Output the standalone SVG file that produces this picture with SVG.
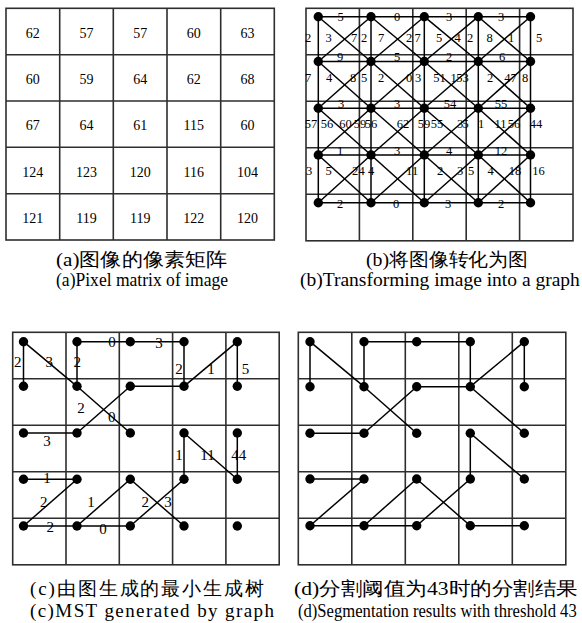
<svg xmlns="http://www.w3.org/2000/svg" width="582" height="623" viewBox="0 0 582 623">
<style>
.grid{stroke:#2e2e2e;stroke-width:1.6;fill:none}
.edge{stroke:#000;stroke-width:1.5;fill:none}
.node{fill:#000}
text{font-family:"Liberation Serif","Times New Roman",serif;fill:#000}
.txt{opacity:0.999}
.na{font-size:14px;text-anchor:middle}
.lb{font-size:12.5px;text-anchor:middle}
.lc{font-size:15px;text-anchor:middle}
.cap{font-size:19px;font-family:"Liberation Serif","Noto Sans CJK SC",serif}
</style>
<rect width="582" height="623" fill="#fff"/>

<!-- Panel (a): pixel matrix -->
<g id="panel-a">
<rect class="grid" x="6" y="8.3" width="268.3" height="231.7"/>
<path class="grid" d="M59.7 8.3V240M113.3 8.3V240M167 8.3V240M220.7 8.3V240M6 54.7H274.3M6 101H274.3M6 147.3H274.3M6 193.7H274.3"/>
<g class="na txt">
<text x="32.8" y="37.5">62</text><text x="86.5" y="37.5">57</text><text x="140.2" y="37.5">57</text><text x="193.8" y="37.5">60</text><text x="247.5" y="37.5">63</text>
<text x="32.8" y="83.9">60</text><text x="86.5" y="83.9">59</text><text x="140.2" y="83.9">64</text><text x="193.8" y="83.9">62</text><text x="247.5" y="83.9">68</text>
<text x="32.8" y="130.2">67</text><text x="86.5" y="130.2">64</text><text x="140.2" y="130.2">61</text><text x="193.8" y="130.2">115</text><text x="247.5" y="130.2">60</text>
<text x="32.8" y="176.5">124</text><text x="86.5" y="176.5">123</text><text x="140.2" y="176.5">120</text><text x="193.8" y="176.5">116</text><text x="247.5" y="176.5">104</text>
<text x="32.8" y="222.9">121</text><text x="86.5" y="222.9">119</text><text x="140.2" y="222.9">119</text><text x="193.8" y="222.9">122</text><text x="247.5" y="222.9">120</text>
</g>
</g>

<!-- Panel (b): image as graph -->
<g id="panel-b-grid">
<rect class="grid" x="306" y="8.3" width="267" height="232.5"/>
<path class="grid" d="M359.4 8.3V240.8M412.8 8.3V240.8M466.2 8.3V240.8M519.6 8.3V240.8M306 54.8H573M306 101.3H573M306 147.8H573M306 194.3H573"/>
</g>
<g id="b-edges" class="edge">
<line x1="318.3" y1="16.7" x2="371" y2="16.7"/><line x1="371" y1="16.7" x2="424.3" y2="16.7"/><line x1="424.3" y1="16.7" x2="478.3" y2="16.7"/><line x1="478.3" y1="16.7" x2="530.5" y2="16.7"/>
<line x1="318.3" y1="61.5" x2="371" y2="61.5"/><line x1="371" y1="61.5" x2="424.3" y2="61.5"/><line x1="424.3" y1="61.5" x2="478.3" y2="61.5"/><line x1="478.3" y1="61.5" x2="530.5" y2="61.5"/>
<line x1="318.3" y1="108.3" x2="371" y2="108.3"/><line x1="371" y1="108.3" x2="424.3" y2="108.3"/><line x1="424.3" y1="108.3" x2="478.3" y2="108.3"/><line x1="478.3" y1="108.3" x2="530.5" y2="108.3"/>
<line x1="318.3" y1="155" x2="371" y2="155"/><line x1="371" y1="155" x2="424.3" y2="155"/><line x1="424.3" y1="155" x2="478.3" y2="155"/><line x1="478.3" y1="155" x2="530.5" y2="155"/>
<line x1="318.3" y1="202.7" x2="371" y2="202.7"/><line x1="371" y1="202.7" x2="424.3" y2="202.7"/><line x1="424.3" y1="202.7" x2="478.3" y2="202.7"/><line x1="478.3" y1="202.7" x2="530.5" y2="202.7"/>
<line x1="318.3" y1="16.7" x2="318.3" y2="61.5"/><line x1="318.3" y1="61.5" x2="318.3" y2="108.3"/><line x1="318.3" y1="108.3" x2="318.3" y2="155"/><line x1="318.3" y1="155" x2="318.3" y2="202.7"/>
<line x1="371" y1="16.7" x2="371" y2="61.5"/><line x1="371" y1="61.5" x2="371" y2="108.3"/><line x1="371" y1="108.3" x2="371" y2="155"/><line x1="371" y1="155" x2="371" y2="202.7"/>
<line x1="424.3" y1="16.7" x2="424.3" y2="61.5"/><line x1="424.3" y1="61.5" x2="424.3" y2="108.3"/><line x1="424.3" y1="108.3" x2="424.3" y2="155"/><line x1="424.3" y1="155" x2="424.3" y2="202.7"/>
<line x1="478.3" y1="16.7" x2="478.3" y2="61.5"/><line x1="478.3" y1="61.5" x2="478.3" y2="108.3"/><line x1="478.3" y1="108.3" x2="478.3" y2="155"/><line x1="478.3" y1="155" x2="478.3" y2="202.7"/>
<line x1="530.5" y1="16.7" x2="530.5" y2="61.5"/><line x1="530.5" y1="61.5" x2="530.5" y2="108.3"/><line x1="530.5" y1="108.3" x2="530.5" y2="155"/><line x1="530.5" y1="155" x2="530.5" y2="202.7"/>
<line x1="318.3" y1="16.7" x2="371" y2="61.5"/><line x1="371" y1="16.7" x2="318.3" y2="61.5"/><line x1="371" y1="16.7" x2="424.3" y2="61.5"/><line x1="424.3" y1="16.7" x2="371" y2="61.5"/><line x1="424.3" y1="16.7" x2="478.3" y2="61.5"/><line x1="478.3" y1="16.7" x2="424.3" y2="61.5"/><line x1="478.3" y1="16.7" x2="530.5" y2="61.5"/><line x1="530.5" y1="16.7" x2="478.3" y2="61.5"/>
<line x1="318.3" y1="61.5" x2="371" y2="108.3"/><line x1="371" y1="61.5" x2="318.3" y2="108.3"/><line x1="371" y1="61.5" x2="424.3" y2="108.3"/><line x1="424.3" y1="61.5" x2="371" y2="108.3"/><line x1="424.3" y1="61.5" x2="478.3" y2="108.3"/><line x1="478.3" y1="61.5" x2="424.3" y2="108.3"/><line x1="478.3" y1="61.5" x2="530.5" y2="108.3"/><line x1="530.5" y1="61.5" x2="478.3" y2="108.3"/>
<line x1="318.3" y1="108.3" x2="371" y2="155"/><line x1="371" y1="108.3" x2="318.3" y2="155"/><line x1="371" y1="108.3" x2="424.3" y2="155"/><line x1="424.3" y1="108.3" x2="371" y2="155"/><line x1="424.3" y1="108.3" x2="478.3" y2="155"/><line x1="478.3" y1="108.3" x2="424.3" y2="155"/><line x1="478.3" y1="108.3" x2="530.5" y2="155"/><line x1="530.5" y1="108.3" x2="478.3" y2="155"/>
<line x1="318.3" y1="155" x2="371" y2="202.7"/><line x1="371" y1="155" x2="318.3" y2="202.7"/><line x1="371" y1="155" x2="424.3" y2="202.7"/><line x1="424.3" y1="155" x2="371" y2="202.7"/><line x1="424.3" y1="155" x2="478.3" y2="202.7"/><line x1="478.3" y1="155" x2="424.3" y2="202.7"/><line x1="478.3" y1="155" x2="530.5" y2="202.7"/><line x1="530.5" y1="155" x2="478.3" y2="202.7"/>
</g>
<g id="b-labels" class="lb txt">
<text x="340.5" y="20.5">5</text><text x="397" y="20.5">0</text><text x="449" y="20.5">3</text><text x="501" y="20.5">3</text>
<text x="340" y="60.5">9</text><text x="397" y="60.5">5</text><text x="449" y="60.5">2</text><text x="502" y="60.5">6</text>
<text x="341" y="108">3</text><text x="397" y="108">3</text><text x="450" y="108">54</text><text x="501" y="108">55</text>
<text x="340" y="155">1</text><text x="397" y="155">3</text><text x="449" y="155">4</text><text x="501" y="155">12</text>
<text x="340" y="208">2</text><text x="396" y="208">0</text><text x="448" y="208">3</text><text x="501" y="208">2</text>
<text x="308" y="41.5">2</text><text x="328.5" y="41.5">3</text><text x="354" y="41.5">7</text><text x="364" y="41.5">2</text><text x="381" y="41.5">7</text><text x="409" y="41.5">2</text><text x="417.5" y="41.5">7</text><text x="439" y="41.5">5</text><text x="457.5" y="41.5">4</text><text x="470" y="41.5">2</text><text x="489.5" y="41.5">8</text><text x="511" y="41.5">1</text><text x="539" y="41.5">5</text>
<text x="308" y="81.5">7</text><text x="329" y="81.5">4</text><text x="353" y="81.5">8</text><text x="364" y="81.5">5</text><text x="381" y="81.5">2</text><text x="409" y="81.5">0</text><text x="418" y="81.5">3</text><text x="439.5" y="81.5">51</text><text x="453.5" y="81.5">1</text><text x="462.5" y="81.5">53</text><text x="490" y="81.5">2</text><text x="510.5" y="81.5">47</text><text x="525" y="81.5">8</text>
<text x="311" y="128">57</text><text x="327" y="128">56</text><text x="345.5" y="128">60</text><text x="360" y="128">59</text><text x="371" y="128">56</text><text x="403" y="128">62</text><text x="424" y="128">59</text><text x="437" y="128">55</text><text x="460" y="128">3</text><text x="465.5" y="128">5</text><text x="481" y="128">1</text><text x="500.5" y="128">11</text><text x="514" y="128">56</text><text x="536" y="128">44</text>
<text x="309" y="175">3</text><text x="328.5" y="175">5</text><text x="355" y="175">2</text><text x="361.5" y="175">4</text><text x="371" y="175">4</text><text x="409" y="175">1</text><text x="415" y="175">1</text><text x="440" y="175">2</text><text x="460" y="175">3</text><text x="471" y="175">5</text><text x="490.5" y="175">4</text><text x="515" y="175">18</text><text x="538.5" y="175">16</text>
</g>
<g id="b-nodes" class="node">
<g id="b-n00"><circle cx="318.3" cy="16.7" r="4.7"/></g><g id="b-n01"><circle cx="371" cy="16.7" r="4.7"/></g><g id="b-n02"><circle cx="424.3" cy="16.7" r="4.7"/></g><g id="b-n03"><circle cx="478.3" cy="16.7" r="4.7"/></g><g id="b-n04"><circle cx="530.5" cy="16.7" r="4.7"/></g>
<g id="b-n10"><circle cx="318.3" cy="61.5" r="4.7"/></g><g id="b-n11"><circle cx="371" cy="61.5" r="4.7"/></g><g id="b-n12"><circle cx="424.3" cy="61.5" r="4.7"/></g><g id="b-n13"><circle cx="478.3" cy="61.5" r="4.7"/></g><g id="b-n14"><circle cx="530.5" cy="61.5" r="4.7"/></g>
<g id="b-n20"><circle cx="318.3" cy="108.3" r="4.7"/></g><g id="b-n21"><circle cx="371" cy="108.3" r="4.7"/></g><g id="b-n22"><circle cx="424.3" cy="108.3" r="4.7"/></g><g id="b-n23"><circle cx="478.3" cy="108.3" r="4.7"/></g><g id="b-n24"><circle cx="530.5" cy="108.3" r="4.7"/></g>
<g id="b-n30"><circle cx="318.3" cy="155" r="4.7"/></g><g id="b-n31"><circle cx="371" cy="155" r="4.7"/></g><g id="b-n32"><circle cx="424.3" cy="155" r="4.7"/></g><g id="b-n33"><circle cx="478.3" cy="155" r="4.7"/></g><g id="b-n34"><circle cx="530.5" cy="155" r="4.7"/></g>
<g id="b-n40"><circle cx="318.3" cy="202.7" r="4.7"/></g><g id="b-n41"><circle cx="371" cy="202.7" r="4.7"/></g><g id="b-n42"><circle cx="424.3" cy="202.7" r="4.7"/></g><g id="b-n43"><circle cx="478.3" cy="202.7" r="4.7"/></g><g id="b-n44"><circle cx="530.5" cy="202.7" r="4.7"/></g>
</g>

<!-- Panel (c): MST -->
<g id="panel-c-grid">
<rect class="grid" x="12.7" y="332.3" width="266.5" height="232.5"/>
<path class="grid" d="M66 332.3V564.8M119.3 332.3V564.8M172.6 332.3V564.8M225.9 332.3V564.8M12.7 378.8H279.2M12.7 425.3H279.2M12.7 471.8H279.2M12.7 518.3H279.2"/>
</g>
<g id="c-edges" class="edge">
<line x1="23.5" y1="341.7" x2="23.5" y2="386.3"/>
<line x1="23.5" y1="341.7" x2="77" y2="386.3"/>
<line x1="77" y1="386.3" x2="130.3" y2="433"/>
<line x1="77" y1="341.7" x2="77" y2="386.3"/>
<line x1="77" y1="341.7" x2="130.3" y2="341.7"/>
<line x1="130.3" y1="341.7" x2="184" y2="341.7"/>
<line x1="184" y1="341.7" x2="184" y2="386.3"/>
<line x1="237.3" y1="341.7" x2="184" y2="386.3"/>
<line x1="237.3" y1="341.7" x2="237.3" y2="386.3"/>
<line x1="130.3" y1="386.3" x2="184" y2="386.3"/>
<line x1="130.3" y1="386.3" x2="77" y2="433"/>
<line x1="23.5" y1="433" x2="77" y2="433"/>
<line x1="184" y1="433" x2="184" y2="479.3"/>
<line x1="184" y1="433" x2="237.3" y2="479.3"/>
<line x1="237.3" y1="433" x2="237.3" y2="479.3"/>
<line x1="23.5" y1="479.3" x2="77" y2="479.3"/>
<line x1="77" y1="479.3" x2="23.5" y2="526"/>
<line x1="130.3" y1="479.3" x2="77" y2="526"/>
<line x1="130.3" y1="479.3" x2="184" y2="526"/>
<line x1="184" y1="479.3" x2="130.3" y2="526"/>
<line x1="23.5" y1="526" x2="77" y2="526"/>
<line x1="77" y1="526" x2="130.3" y2="526"/>
</g>
<g id="c-labels" class="lc txt">
<text x="17.8" y="366.5">2</text><text x="49.3" y="366.5">3</text><text x="77.3" y="366.5">2</text>
<text x="112" y="347">0</text><text x="159" y="348">3</text>
<text x="179" y="374">2</text><text x="211" y="374">1</text><text x="245.5" y="374">5</text>
<text x="81" y="413">2</text><text x="111.7" y="421.5">0</text><text x="47" y="446">3</text>
<text x="179" y="460">1</text><text x="207.5" y="460">11</text><text x="238.7" y="460">44</text>
<text x="47" y="482.5">1</text><text x="43.7" y="506.5">2</text><text x="91" y="506.5">1</text><text x="145.3" y="506.5">2</text><text x="168" y="507">3</text>
<text x="50.3" y="531.5">2</text><text x="103" y="534">0</text>
</g>
<g id="c-nodes" class="node">
<g id="c-n00"><circle cx="23.5" cy="341.7" r="4.7"/></g><g id="c-n01"><circle cx="77" cy="341.7" r="4.7"/></g><g id="c-n02"><circle cx="130.3" cy="341.7" r="4.7"/></g><g id="c-n03"><circle cx="184" cy="341.7" r="4.7"/></g><g id="c-n04"><circle cx="237.3" cy="341.7" r="4.7"/></g>
<g id="c-n10"><circle cx="23.5" cy="386.3" r="4.7"/></g><g id="c-n11"><circle cx="77" cy="386.3" r="4.7"/></g><g id="c-n12"><circle cx="130.3" cy="386.3" r="4.7"/></g><g id="c-n13"><circle cx="184" cy="386.3" r="4.7"/></g><g id="c-n14"><circle cx="237.3" cy="386.3" r="4.7"/></g>
<g id="c-n20"><circle cx="23.5" cy="433" r="4.7"/></g><g id="c-n21"><circle cx="77" cy="433" r="4.7"/></g><g id="c-n22"><circle cx="130.3" cy="433" r="4.7"/></g><g id="c-n23"><circle cx="184" cy="433" r="4.7"/></g><g id="c-n24"><circle cx="237.3" cy="433" r="4.7"/></g>
<g id="c-n30"><circle cx="23.5" cy="479.3" r="4.7"/></g><g id="c-n31"><circle cx="77" cy="479.3" r="4.7"/></g><g id="c-n32"><circle cx="130.3" cy="479.3" r="4.7"/></g><g id="c-n33"><circle cx="184" cy="479.3" r="4.7"/></g><g id="c-n34"><circle cx="237.3" cy="479.3" r="4.7"/></g>
<g id="c-n40"><circle cx="23.5" cy="526" r="4.7"/></g><g id="c-n41"><circle cx="77" cy="526" r="4.7"/></g><g id="c-n42"><circle cx="130.3" cy="526" r="4.7"/></g><g id="c-n43"><circle cx="184" cy="526" r="4.7"/></g><g id="c-n44"><circle cx="237.3" cy="526" r="4.7"/></g>
</g>

<!-- Panel (d): segmentation -->
<g id="panel-d-grid">
<rect class="grid" x="298.3" y="332.3" width="267.5" height="232.5"/>
<path class="grid" d="M351.8 332.3V564.8M405.3 332.3V564.8M458.8 332.3V564.8M512.3 332.3V564.8M298.3 378.8H565.8M298.3 425.3H565.8M298.3 471.8H565.8M298.3 518.3H565.8"/>
</g>
<g id="d-edges" class="edge">
<line x1="310" y1="341.7" x2="310" y2="386.7"/>
<line x1="310" y1="341.7" x2="364" y2="386.7"/>
<line x1="364" y1="386.7" x2="416.7" y2="433.3"/>
<line x1="364" y1="341.7" x2="364" y2="386.7"/>
<line x1="364" y1="341.7" x2="416.7" y2="341.7"/>
<line x1="416.7" y1="341.7" x2="470.3" y2="341.7"/>
<line x1="470.3" y1="341.7" x2="470.3" y2="386.7"/>
<line x1="524.3" y1="341.7" x2="470.3" y2="386.7"/>
<line x1="524.3" y1="341.7" x2="524.3" y2="386.7"/>
<line x1="416.7" y1="386.7" x2="470.3" y2="386.7"/>
<line x1="416.7" y1="386.7" x2="364" y2="433.3"/>
<line x1="310" y1="433.3" x2="364" y2="433.3"/>
<line x1="470.3" y1="386.7" x2="524.3" y2="433.3"/>
<line x1="470.3" y1="433.3" x2="470.3" y2="479"/>
<line x1="470.3" y1="433.3" x2="524.3" y2="479"/>
<line x1="310" y1="479" x2="364" y2="479"/>
<line x1="364" y1="479" x2="310" y2="525.7"/>
<line x1="416.7" y1="479" x2="364" y2="525.7"/>
<line x1="416.7" y1="479" x2="470.3" y2="525.7"/>
<line x1="470.3" y1="479" x2="416.7" y2="525.7"/>
<line x1="310" y1="525.7" x2="364" y2="525.7"/>
<line x1="364" y1="525.7" x2="416.7" y2="525.7"/>
<line x1="470.3" y1="525.7" x2="524.3" y2="525.7"/>
</g>
<g id="d-nodes" class="node">
<g id="d-n00"><circle cx="310" cy="341.7" r="4.7"/></g><g id="d-n01"><circle cx="364" cy="341.7" r="4.7"/></g><g id="d-n02"><circle cx="416.7" cy="341.7" r="4.7"/></g><g id="d-n03"><circle cx="470.3" cy="341.7" r="4.7"/></g><g id="d-n04"><circle cx="524.3" cy="341.7" r="4.7"/></g>
<g id="d-n10"><circle cx="310" cy="386.7" r="4.7"/></g><g id="d-n11"><circle cx="364" cy="386.7" r="4.7"/></g><g id="d-n12"><circle cx="416.7" cy="386.7" r="4.7"/></g><g id="d-n13"><circle cx="470.3" cy="386.7" r="4.7"/></g><g id="d-n14"><circle cx="524.3" cy="386.7" r="4.7"/></g>
<g id="d-n20"><circle cx="310" cy="433.3" r="4.7"/></g><g id="d-n21"><circle cx="364" cy="433.3" r="4.7"/></g><g id="d-n22"><circle cx="416.7" cy="433.3" r="4.7"/></g><g id="d-n23"><circle cx="470.3" cy="433.3" r="4.7"/></g><g id="d-n24"><circle cx="524.3" cy="433.3" r="4.7"/></g>
<g id="d-n30"><circle cx="310" cy="479" r="4.7"/></g><g id="d-n31"><circle cx="364" cy="479" r="4.7"/></g><g id="d-n32"><circle cx="416.7" cy="479" r="4.7"/></g><g id="d-n33"><circle cx="470.3" cy="479" r="4.7"/></g><g id="d-n34"><circle cx="524.3" cy="479" r="4.7"/></g>
<g id="d-n40"><circle cx="310" cy="525.7" r="4.7"/></g><g id="d-n41"><circle cx="364" cy="525.7" r="4.7"/></g><g id="d-n42"><circle cx="416.7" cy="525.7" r="4.7"/></g><g id="d-n43"><circle cx="470.3" cy="525.7" r="4.7"/></g><g id="d-n44"><circle cx="524.3" cy="525.7" r="4.7"/></g>
</g>

<!-- Captions -->
<g id="captions" class="cap txt">
<text x="56" y="265.5" textLength="171" lengthAdjust="spacingAndGlyphs">(a)图像的像素矩阵</text>
<text x="56" y="285.5" textLength="172" lengthAdjust="spacingAndGlyphs">(a)Pixel matrix of image</text>
<text x="366" y="265.5" textLength="162" lengthAdjust="spacingAndGlyphs">(b)将图像转化为图</text>
<text x="300" y="285.5" style="font-size:19.5px">(b)Transforming image into a graph</text>
<text x="30" y="595" textLength="234" lengthAdjust="spacing">(c)由图生成的最小生成树</text>
<text x="294" y="595" textLength="284" lengthAdjust="spacingAndGlyphs">(d)分割阈值为43时的分割结果</text>
<text x="30" y="617" textLength="244" lengthAdjust="spacing">(c)MST generated by graph</text>
<text transform="translate(298 617) scale(0.84 1)" x="0" y="0" style="font-size:19.8px">(d)Segmentation results with threshold 43</text>
</g>
</svg>
